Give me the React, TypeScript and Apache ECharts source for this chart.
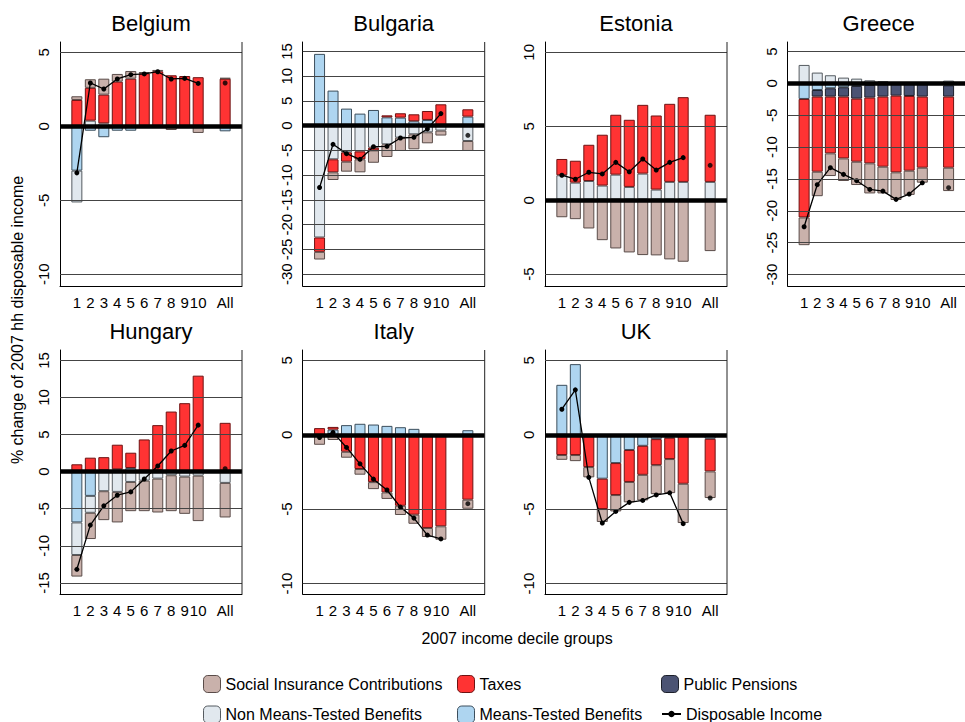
import { useEffect, useRef } from 'react';
import * as echarts from 'echarts';

// half-bar slots on the x axis: decile k sits at slot 2k, All sits at slot 24
const slotCount = 27;
const xSlots = [2, 4, 6, 8, 10, 12, 14, 16, 18, 20, 24];
const xNames = ['1', '2', '3', '4', '5', '6', '7', '8', '9', '10', 'All'];

const seriesNames = [
  'Means-Tested Benefits',
  'Non Means-Tested Benefits',
  'Public Pensions',
  'Taxes',
  'Social Insurance Contributions',
];
const diName = 'Disposable Income';

// Belgium
const beMT = [-3.0, -0.3, -0.74, -0.3, -0.3, -0.1, -0.1, 0, -0.12, 0, -0.34];
const beNMT = [-2.15, 0.38, 0.2, 0, 0, 0, 0, 0, 0, 0, 0];
const bePP = [0, 0, 0, 0, 0, 0, 0, 0, 0, 0, 0];
const beTax = [1.78, 2.22, 1.94, 3.02, 3.22, 3.58, 3.72, 3.45, 3.4, 3.32, 3.22];
const beSIC = [0.25, 0.58, 1.08, 0.52, 0.52, 0.09, 0.09, -0.25, 0, -0.45, 0.05];
const beDI = [-3.15, 2.93, 2.52, 3.2, 3.49, 3.54, 3.69, 3.2, 3.24, 2.9, 2.93];

// Bulgaria
const bgMT = [14.5, 7.08, 3.44, 2.43, 3.17, 1.68, 1.62, 0.88, 1.15, 0, 1.82];
const bgNMT = [-22.6, -6.8, -5.4, -5.2, -4.45, -3.77, -2.43, -1.75, -1.35, -1.0, -3.1];
const bgPP = [0, 0, 0, 0, 0, 0, 0, 0, 0, 0, 0];
const bgTax = [-2.9, -2.63, -1.88, -1.6, -0.55, 0.4, 0.88, 1.41, 1.81, 4.31, 1.48];
const bgSIC = [-1.55, -1.55, -2.02, -2.63, -2.5, -2.56, -2.69, -3.03, -2.22, -1.0, -2.02];
const bgDI = [-12.5, -3.77, -5.66, -6.8, -4.25, -4.18, -2.5, -2.36, -0.67, 2.43, -1.95];

// Estonia
const eeMT = [0.05, 0.05, 0.05, 0.05, 0.05, 0.05, 0.05, 0.05, 0.05, 0.05, 0.05];
const eeNMT = [1.64, 1.14, 1.25, 0.94, 1.68, 0.85, 1.75, 0.67, 1.19, 1.19, 1.19];
const eePP = [0, 0, 0, 0, 0, 0, 0, 0, 0, 0, 0];
const eeTax = [1.1, 1.48, 2.45, 3.44, 4.05, 4.54, 4.65, 5.01, 5.28, 5.73, 4.54];
const eeSIC = [-1.15, -1.28, -1.91, -2.7, -3.26, -3.53, -3.71, -3.73, -4.0, -4.16, -3.44];
const eeDI = [1.69, 1.42, 1.89, 1.78, 2.56, 1.92, 2.79, 2.04, 2.56, 2.88, 2.36];

// Greece
const grMT = [-2.44, -1.03, -0.76, -0.6, -0.4, -0.24, -0.14, -0.1, -0.1, -0.1, -0.3];
const grNMT = [2.9, 1.7, 1.28, 0.91, 0.75, 0.49, 0.34, 0.18, 0.05, 0.05, 0.44];
const grPP = [0, -1.04, -1.31, -1.47, -1.99, -1.99, -1.93, -1.82, -1.87, -1.97, -1.77];
const grTax = [-18.6, -11.79, -8.91, -9.7, -9.9, -10.32, -11.0, -12.04, -11.73, -11.16, -11.16];
const grSIC = [-4.35, -3.84, -3.56, -3.55, -3.66, -4.72, -4.2, -4.34, -3.8, -2.35, -3.67];
const grDI = [-22.5, -15.9, -13.23, -14.28, -15.27, -16.64, -16.9, -18.2, -17.37, -15.6, -16.37];

// Hungary
const huMT = [-6.85, -3.27, 0.2, 0.31, 0.49, 0.13, 0.2, 0, 0, 0, 0.1];
const huNMT = [-4.39, -2.28, -2.64, -2.73, -1.39, -1.21, -0.94, -0.49, -0.67, -0.54, -1.52];
const huPP = [0, 0, 0, 0, 0, 0, 0, 0, 0, 0, 0];
const huTax = [0.99, 1.88, 1.75, 3.32, 2.06, 4.21, 6.07, 8.1, 9.23, 12.94, 6.48];
const huSIC = [-2.91, -3.54, -3.9, -4.12, -3.94, -4.12, -4.57, -4.84, -5.02, -6.13, -4.66];
const huDI = [-13.17, -7.21, -4.61, -3.18, -2.73, -0.99, 0.76, 2.78, 3.54, 6.27, 0.4];

// Italy
const itMT = [-0.08, 0.35, 0.65, 0.74, 0.69, 0.6, 0.51, 0.4, 0.05, 0.03, 0.31];
const itNMT = [0, 0, 0, 0, 0, 0, 0, 0, 0, 0, 0];
const itPP = [0, 0, 0, 0, 0, 0, 0, 0, 0, 0, 0];
const itTax = [0.45, 0.18, -1.14, -2.3, -3.18, -3.87, -4.77, -5.37, -6.26, -6.15, -4.36];
const itSIC = [-0.59, -0.35, -0.4, -0.38, -0.47, -0.44, -0.62, -0.61, -0.61, -0.9, -0.61];
const itDI = [-0.18, 0.16, -0.85, -1.95, -2.98, -3.71, -4.86, -5.6, -6.74, -7.0, -4.63];

// UK
const ukMT = [3.36, 4.75, -0.1, -2.95, -1.9, -1.02, -0.74, -0.29, -0.2, -0.05, -0.27];
const ukNMT = [0, 0, 0, 0, 0, 0, 0, 0, 0, 0, 0];
const ukPP = [0, 0, 0, 0, 0, 0, 0, 0, 0, 0, 0];
const ukTax = [-1.36, -1.36, -2.07, -2.04, -2.15, -2.15, -1.95, -1.75, -1.43, -3.24, -2.19];
const ukSIC = [-0.32, -0.41, -0.69, -0.87, -1.1, -1.37, -1.72, -1.95, -2.29, -2.64, -1.79];
const ukDI = [1.72, 3.02, -2.86, -5.93, -5.15, -4.54, -4.41, -4.04, -3.9, -5.97, -4.25];

const beTicks = [-10, -5, 0, 5];
const bgTicks = [-30, -25, -20, -15, -10, -5, 0, 5, 10, 15];
const eeTicks = [-5, 0, 5, 10];
const grTicks = [-30, -25, -20, -15, -10, -5, 0, 5];
const huTicks = [-15, -10, -5, 0, 5, 10, 15];
const itTicks = [-10, -5, 0, 5];
const ukTicks = [-10, -5, 0, 5];

const panels = [
  { title: 'Belgium', parts: [beMT, beNMT, bePP, beTax, beSIC], di: beDI, ticks: beTicks, yMin: -10.8, yMax: 5.7 },
  { title: 'Bulgaria', parts: [bgMT, bgNMT, bgPP, bgTax, bgSIC], di: bgDI, ticks: bgTicks, yMin: -32.4, yMax: 16.9 },
  { title: 'Estonia', parts: [eeMT, eeNMT, eePP, eeTax, eeSIC], di: eeDI, ticks: eeTicks, yMin: -5.8, yMax: 10.7 },
  { title: 'Greece', parts: [grMT, grNMT, grPP, grTax, grSIC], di: grDI, ticks: grTicks, yMin: -31.8, yMax: 6.5 },
  { title: 'Hungary', parts: [huMT, huNMT, huPP, huTax, huSIC], di: huDI, ticks: huTicks, yMin: -16.5, yMax: 16.4 },
  { title: 'Italy', parts: [itMT, itNMT, itPP, itTax, itSIC], di: itDI, ticks: itTicks, yMin: -10.7, yMax: 5.7 },
  { title: 'UK', parts: [ukMT, ukNMT, ukPP, ukTax, ukSIC], di: ukDI, ticks: ukTicks, yMin: -10.7, yMax: 5.7 },
];

const colLeft = [60, 302.7, 545, 787.7];
const rowTop = [42, 350];
const plotW = 182;
const plotH = 244;

const fills = ['#AED5F0', '#E1E8EE', '#4B5373', '#FF3333', '#C9B1AB'];
const borders = ['#3c4e5c', '#555b60', '#1c1f2a', '#6e1212', '#5a4c49'];
const font = 'Liberation Sans, Arial, sans-serif';

const categories = Array.from({ length: slotCount }, (_, s) => {
  const j = xSlots.indexOf(s);
  return j >= 0 ? xNames[j] : '';
});

// spread 11 values onto the slot grid, '-' elsewhere
const toSlots = (vals: number[], upTo = vals.length) => {
  const out: (number | string)[] = Array(slotCount).fill('-');
  vals.slice(0, upTo).forEach((v, j) => {
    out[xSlots[j]] = v === 0 ? '-' : v;
  });
  return out;
};

const App = () => {
  const chartRef = useRef<HTMLDivElement | null>(null);

  useEffect(() => {
    if (!chartRef.current) return;
    const chart = echarts.init(chartRef.current, undefined, { renderer: 'svg' });

    const grids: any[] = [];
    const xAxes: any[] = [];
    const yAxes: any[] = [];
    const series: any[] = [];
    const graphics: any[] = [];

    panels.forEach((p, i) => {
      const left = colLeft[i % 4];
      const top = rowTop[Math.floor(i / 4)];
      grids.push({ left, top, width: plotW, height: plotH });
      graphics.push({
        type: 'text',
        x: left + plotW / 2,
        y: top - 19,
        style: { text: p.title, font: `22px ${font}`, fill: '#000', align: 'center', verticalAlign: 'middle' },
      });
      // right side of the open-topped frame
      graphics.push({
        type: 'line',
        silent: true,
        z: 10,
        shape: { x1: left + plotW, y1: top, x2: left + plotW, y2: top + plotH },
        style: { stroke: '#222', lineWidth: 1 },
      });
      xAxes.push({
        gridIndex: i,
        type: 'category',
        data: categories,
        boundaryGap: true,
        axisLine: { show: true, onZero: false, lineStyle: { color: '#000', width: 1 } },
        axisTick: { show: false },
        splitLine: { show: false },
        axisLabel: {
          interval: 0,
          fontSize: 15,
          fontFamily: font,
          color: '#000',
          margin: 9,
        },
      });
      yAxes.push({
        gridIndex: i,
        type: 'value',
        min: p.yMin,
        max: p.yMax,
        axisLine: { show: true, lineStyle: { color: '#000', width: 1 } },
        axisTick: { show: false },
        splitLine: { show: false },
        axisLabel: {
          customValues: p.ticks,
          rotate: 90,
          fontSize: 15,
          fontFamily: font,
          color: '#000',
          margin: 9,
        },
      });

      // gridlines
      series.push({
        type: 'line',
        name: `grid${i}`,
        xAxisIndex: i,
        yAxisIndex: i,
        data: [0],
        symbol: 'none',
        lineStyle: { opacity: 0 },
        silent: true,
        z: 1,
        markLine: {
          silent: true,
          symbol: ['none', 'none'],
          label: { show: false },
          lineStyle: { color: '#444', width: 1, type: 'solid' },
          data: p.ticks.filter((t) => t !== 0).map((t) => ({ yAxis: t })),
        },
      });

      p.parts.forEach((vals, k) => {
        series.push({
          type: 'bar',
          name: seriesNames[k],
          xAxisIndex: i,
          yAxisIndex: i,
          stack: `s${i}`,
          barWidth: 11,
          z: 2,
          itemStyle: { color: fills[k], borderColor: borders[k], borderWidth: 1 },
          data: toSlots(vals),
        });
      });

      // thick zero line
      series.push({
        type: 'line',
        name: `zero${i}`,
        xAxisIndex: i,
        yAxisIndex: i,
        data: [0],
        symbol: 'none',
        lineStyle: { opacity: 0 },
        silent: true,
        z: 3,
        markLine: {
          silent: true,
          symbol: ['none', 'none'],
          label: { show: false },
          lineStyle: { color: '#000', width: 4.5, type: 'solid' },
          data: [{ yAxis: 0 }],
        },
      });

      series.push({
        type: 'line',
        name: diName,
        xAxisIndex: i,
        yAxisIndex: i,
        z: 4,
        connectNulls: true,
        symbol: 'circle',
        symbolSize: 5,
        showSymbol: true,
        itemStyle: { color: '#000' },
        lineStyle: { color: '#000', width: 1.3 },
        data: toSlots(p.di, 10),
      });
      const allOnly: (number | string)[] = Array(slotCount).fill('-');
      allOnly[xSlots[10]] = p.di[10];
      series.push({
        type: 'scatter',
        name: `${diName} all ${i}`,
        xAxisIndex: i,
        yAxisIndex: i,
        z: 4,
        symbol: 'circle',
        symbolSize: 5,
        itemStyle: { color: '#000' },
        data: allOnly,
      });
    });

    graphics.push({
      type: 'text',
      x: 517,
      y: 638,
      style: { text: '2007 income decile groups', font: `16px ${font}`, fill: '#000', align: 'center', verticalAlign: 'middle' },
    });
    graphics.push({
      type: 'text',
      x: 17,
      y: 320,
      rotation: Math.PI / 2,
      style: { text: '% change of 2007 hh disposable income', font: `16px ${font}`, fill: '#000', align: 'center', verticalAlign: 'middle' },
    });

    const legendItems = [
      { name: 'Social Insurance Contributions', left: 203, top: 675 },
      { name: 'Taxes', left: 457, top: 675 },
      { name: 'Public Pensions', left: 661, top: 675 },
      { name: 'Non Means-Tested Benefits', left: 203, top: 705.5 },
      { name: 'Means-Tested Benefits', left: 457, top: 705.5 },
    ];

    const legends: any[] = legendItems.map((l) => ({
      data: [l.name],
      left: l.left,
      top: l.top,
      padding: 0,
      itemWidth: 17,
      itemHeight: 17,
      selectedMode: false,
      textStyle: { fontSize: 16, fontFamily: font, color: '#000' },
      itemStyle: { borderWidth: 1 },
    }));
    legends.push({
      data: [diName],
      left: 661,
      top: 706,
      padding: 0,
      itemWidth: 19,
      itemHeight: 8,
      itemGap: 0,
      selectedMode: false,
      textStyle: { fontSize: 16, fontFamily: font, color: '#000', padding: [0, 0, 0, 0] },
    });

    const option = {
      animation: false,
      backgroundColor: '#fff',
      grid: grids,
      xAxis: xAxes,
      yAxis: yAxes,
      series,
      legend: legends,
      graphic: graphics,
    };

    chart.setOption(option);

    return () => {
      chart.dispose();
    };
  }, []);

  return (
    <div
      ref={chartRef}
      style={{ position: 'absolute', left: 0, top: 0, width: '965px', height: '722px' }}
    />
  );
};

export default App;
